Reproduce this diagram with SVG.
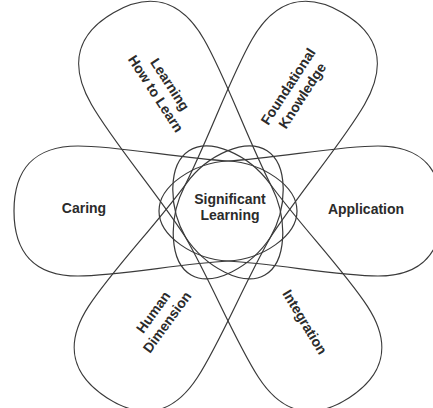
<svg xmlns="http://www.w3.org/2000/svg" width="433" height="408" viewBox="0 0 433 408">
<defs>
<path id="petal" d="M -69,0 C -69,-25 -35,-48 0,-50 C 50,-53 110,-65 150,-65 C 195,-65 214,-40 214,0 C 214,40 195,65 150,65 C 110,65 50,53 0,50 C -35,48 -69,25 -69,0 Z"/>
</defs>
<style>
.p{fill:none;stroke:#3a3a3a;stroke-width:1.2}
.t{font-family:"Liberation Sans",Arial,sans-serif;font-weight:bold;font-size:14px;fill:#2b2b2b;text-anchor:middle}
</style>
<rect width="433" height="408" fill="#fff"/>
<g id="caring"><use href="#petal" class="p" transform="translate(228,211) rotate(180)"/><text class="t" x="84" y="213">Caring</text></g>
<g id="application"><use href="#petal" class="p" transform="translate(228,211)"/><text class="t" x="366" y="214">Application</text></g>
<g id="learning-how-to-learn"><use href="#petal" class="p" transform="translate(228,211) rotate(-120) scale(1.07,1)"/><text class="t" transform="translate(163,89) rotate(57)"><tspan x="0" y="-3.5">Learning</tspan><tspan x="0" y="13.5">How to Learn</tspan></text></g>
<g id="foundational-knowledge"><use href="#petal" class="p" transform="translate(228,211) rotate(-60) scale(1.07,1)"/><text class="t" transform="translate(295,91) rotate(-57)"><tspan x="0" y="-3.5">Foundational</tspan><tspan x="0" y="13.5">Knowledge</tspan></text></g>
<g id="human-dimension"><use href="#petal" class="p" transform="translate(228,211) rotate(123) scale(1.04,1)"/><text class="t" transform="translate(160,317) rotate(-54)"><tspan x="0" y="-3.5">Human</tspan><tspan x="0" y="13.5">Dimension</tspan></text></g>
<g id="integration"><use href="#petal" class="p" transform="translate(228,211) rotate(57) scale(1.04,1)"/><text class="t" transform="translate(305,322) rotate(59)" x="0" y="5">Integration</text></g>
<g id="significant-learning"><text class="t" x="230" y="204">Significant</text><text class="t" x="230" y="220">Learning</text></g>
</svg>
